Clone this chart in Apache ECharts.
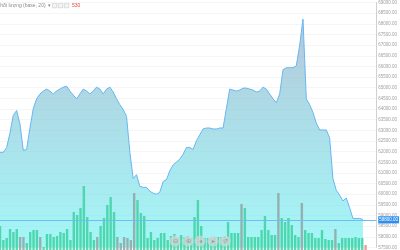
<!DOCTYPE html>
<html><head><meta charset="utf-8">
<script src="https://cdn.jsdelivr.net/npm/echarts@6/dist/echarts.min.js"></script>
<style>html,body{margin:0;padding:0;background:#fff}#c{width:400px;height:250px}</style>
</head><body><div id="c"></div>
<script>
const prices = [61968,61968,62196,62881,63703,63931,63292,62059,62105,63109,
64023,64479,64707,64844,64936,64844,64707,64844,64936,65027,
65073,64844,64662,64479,64707,64936,64844,64707,64844,65027,
64936,64707,64936,65027,64799,64479,64205,63977,63657,61968,
60735,60918,60370,60324,60324,60141,60050,60004,60095,60598,
60689,61100,61374,61511,61648,61876,62196,62196,62105,62515,
62789,63063,63109,63109,63063,63063,63109,63109,64023,64936,
64890,64844,64890,64981,64981,64936,64890,64799,64844,65027,
64936,64707,64479,64296,64707,65849,65940,65940,65940,66031,
66990,68223,64479,64205,63840,63337,63018,63018,63018,62652,
60735,60187,59959,59685,59822,59365,58863,58863,58863,58817];
const volumes = [24,10,12,21,18,21,13,13,7,18,
20,20,13,3,16,16,13,14,18,17,
21,10,38,35,42,64,33,18,10,13,
24,32,45,53,38,13,7,13,12,10,
57,50,37,34,12,18,10,12,17,17,
10,14,16,12,15,13,14,12,33,50,
24,12,12,12,13,13,13,14,28,17,
17,17,46,42,13,13,13,13,20,34,
20,15,15,57,32,28,32,25,15,13,
47,20,17,17,12,12,20,11,10,10,
21,7,12,12,12,12,13,12,12,5];
const directions = [1,1,1,1,1,1,0,0,1,1,
1,1,0,1,1,1,1,1,1,1,
1,1,1,1,1,1,1,1,1,0,
1,1,1,1,1,0,0,0,0,0,
0,1,1,1,1,1,1,1,1,1,
1,1,1,1,1,1,1,1,1,1,
1,1,1,1,1,1,1,1,1,1,
1,1,0,1,1,1,1,1,1,1,
1,1,1,0,1,1,1,1,1,1,
0,1,1,1,1,1,1,1,1,1,
0,1,1,1,1,1,1,1,1,2];
const currentPrice = 58800;
const priceTicks = {min:57500, max:69000, interval:500};
const legendText = 'Khối lượng (base, 20)';
const extraSlots = 4;
const categories = [];
for (let i = 0; i < prices.length + extraSlots; i++) categories.push('t' + i);

const chart = echarts.init(document.getElementById('c'), null, {renderer:'canvas'});
const barColors = ['#8fa6a6', '#3fd2a2', '#f28a8a'];
chart.setOption({
  animation:false,
  grid:[{left:0, right:21, top:1, bottom:-2.9},{left:0, right:21, top:150, bottom:0}],
  xAxis:[
    {type:'category', data:categories, boundaryGap:false, gridIndex:0,
     axisLine:{show:false}, axisTick:{show:false}, axisLabel:{show:false},
     splitLine:{show:false}},
    {type:'category', data:categories, boundaryGap:false, gridIndex:1,
     axisLine:{show:false}, axisTick:{show:false}, axisLabel:{show:false}, splitLine:{show:false}}
  ],
  yAxis:[
    {type:'value', position:'right', gridIndex:0, min:priceTicks.min, max:priceTicks.max, interval:priceTicks.interval,
     axisLine:{show:true, lineStyle:{color:'#d0d0d0', width:1}}, axisTick:{show:false},
     axisLabel:{fontSize:4.5, color:'#a0a0a0', margin:2, formatter:v=>v.toFixed(2)},
     splitLine:{show:true, lineStyle:{color:'#f5f5f5', width:1}}},
    {type:'value', gridIndex:1, min:0, max:100, show:false}
  ],
  series:[
    {type:'line', data:prices, xAxisIndex:0, yAxisIndex:0, symbol:'none', z:1,
     lineStyle:{color:'#66b6f2', width:1},
     areaStyle:{origin:'start', color:new echarts.graphic.LinearGradient(0,0,0,1,[
        {offset:0, color:'#98aec8'},{offset:0.35, color:'#8ac8d9'},{offset:1, color:'#7cf3f3'}])},
     markLine:{silent:true, symbol:'none', data:[{yAxis:currentPrice}],
       lineStyle:{color:'#6cbcf6', width:1, type:'solid'},
       label:{position:'end', distance:2, formatter:()=>currentPrice.toFixed(2), fontSize:4.5, color:'#fff',
         backgroundColor:'#2d8ff0', padding:[1,1]}}},
    {type:'bar', data:volumes.map((v,i)=>({value:v, itemStyle:{color:barColors[directions[i]]}})),
     xAxisIndex:1, yAxisIndex:1, barWidth:2.4, z:2, itemStyle:{opacity:0.85}}
  ],
  graphic:[
    {type:'text', left:-3, top:3, style:{text:legendText + '  ▾', fontSize:5, fill:'#8a8a8a'}},
    {type:'rect', left:52, top:3, shape:{width:4.5, height:4.5}, style:{fill:'#f4f4f4', stroke:'#c8c8c8', lineWidth:0.6}},
    {type:'rect', left:58, top:3, shape:{width:4.5, height:4.5}, style:{fill:'#f4f4f4', stroke:'#c8c8c8', lineWidth:0.6}},
    {type:'rect', left:64, top:3, shape:{width:4.5, height:4.5}, style:{fill:'#f4f4f4', stroke:'#c8c8c8', lineWidth:0.6}},
    {type:'text', left:72, top:3, style:{text:'530', fontSize:5, fill:'#f04040'}},
    ...[175,188,200,213,225].map(cx=>({type:'circle', shape:{cx:cx, cy:241, r:5.5}, style:{fill:'rgba(210,215,215,0.75)'}, z:10})),
    ...[175,188,200,213,225].map((cx,k)=>({type:'text', x:cx, y:241, style:{text:['⊖','⊕','◂','▸','↺'][k], fontSize:6, fill:'#9a9a9a', align:'center', verticalAlign:'middle'}, z:11}))
  ]
});
</script></body></html>
